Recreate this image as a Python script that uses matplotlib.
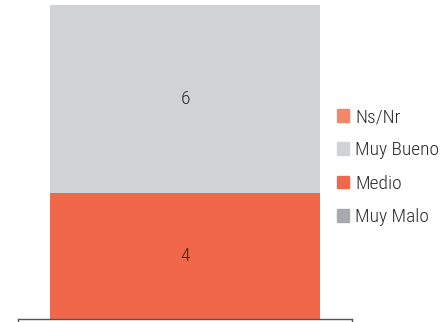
import matplotlib
matplotlib.use("Agg")
import matplotlib.pyplot as plt
from matplotlib.patches import Patch

# stacked from bottom to top
series = ['Muy Malo', 'Medio', 'Muy Bueno', 'Ns/Nr']
values = [0, 4, 6, 0]
colors = ['#A7A9AC', '#F0674A', '#D1D2D4', '#F4876A']

plt.rcParams['font.family'] = ['Roboto Condensed', 'Archivo Narrow', 'DejaVu Sans']
plt.rcParams['font.weight'] = 'light'

W, H = 442, 322
fig = plt.figure(figsize=(W / 100, H / 100), dpi=100)
ax = fig.add_axes([18 / W, 3 / H, (352 - 18) / W, (317 - 3) / H])

bottom = 0
for name, v, c in zip(series, values, colors):
    if v > 0:
        ax.bar(0, v, bottom=bottom, width=0.808, color=c, linewidth=0)
        ax.text(0, bottom + v / 2, str(v), ha='center', va='center',
                fontsize=14, color='#2a2a2a')
    bottom += v

ax.set_xlim(-0.5, 0.5)
ax.set_ylim(0, 10)
for s in ['top', 'right', 'left']:
    ax.spines[s].set_visible(False)
ax.spines['bottom'].set_color('#555555')
ax.spines['bottom'].set_linewidth(1)
ax.set_yticks([])
ax.set_xticks([-0.5, 0.5])
ax.set_xticklabels(['', ''])
ax.tick_params(axis='x', length=3, width=1, color='#555555', direction='out')

handles = [Patch(color=c, label=n) for n, c in zip(series, colors)][::-1]
leg = fig.legend(handles=handles, loc='upper left',
                 bbox_to_anchor=(337 / W, 1 - 108 / H),
                 frameon=False, fontsize=14, handlelength=0.63, handleheight=0.63,
                 handletextpad=0.3, labelspacing=0.79, borderpad=0, borderaxespad=0)
for t in leg.get_texts():
    t.set_color('#2a2a2a')

fig.savefig('out.png', dpi=100)
